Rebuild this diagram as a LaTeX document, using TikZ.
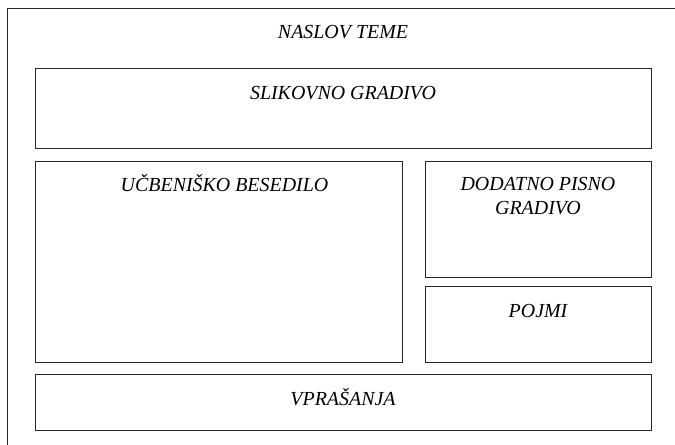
\documentclass[tikz,border=0pt]{standalone}
\usepackage{fontspec}
\setmainfont{Liberation Serif}

\tikzset{
    okvir/.style={draw=black!85, line width=0.8bp, inner sep=0pt},
    napis/.style={font=\itshape\fontsize{20}{24}\selectfont, inner sep=0pt, anchor=base, align=center},
}

\begin{document}
\begin{tikzpicture}[x=1bp, y=-1bp]
    \useasboundingbox (0,0) rectangle (675,445);

    % Zunanji okvir (le zgoraj in levo)
    \draw[black!85, line width=0.8bp] (675,8) -- (7,8) -- (7,445);
    \node[napis] (naslov) at (343,39) {NASLOV TEME};

    % Polja
    \node[okvir, minimum width=616bp, minimum height=80bp] (slike) at (343,108) {};
    \node[okvir, minimum width=367bp, minimum height=201bp] (besedilo) at (218.5,261.5) {};
    \node[okvir, minimum width=226bp, minimum height=116bp] (dodatno) at (538,219) {};
    \node[okvir, minimum width=226bp, minimum height=76bp] (pojmi) at (538,324) {};
    \node[okvir, minimum width=616bp, minimum height=56bp] (vprasanja) at (343,402) {};

    % Napisi
    \node[napis] (slike-t) at ([yshift=-32bp]slike.north) {SLIKOVNO GRADIVO};
    \node[napis] (besedilo-t) at ([xshift=6bp, yshift=-31bp]besedilo.north) {UČBENIŠKO BESEDILO};
    \node[napis, anchor=north] (dodatno-t) at ([yshift=-17bp]dodatno.north) {DODATNO PISNO\\GRADIVO};
    \node[napis] (pojmi-t) at ([yshift=-32bp]pojmi.north) {POJMI};
    \node[napis] (vprasanja-t) at ([yshift=-31.5bp]vprasanja.north) {VPRAŠANJA};
\end{tikzpicture}
\end{document}
